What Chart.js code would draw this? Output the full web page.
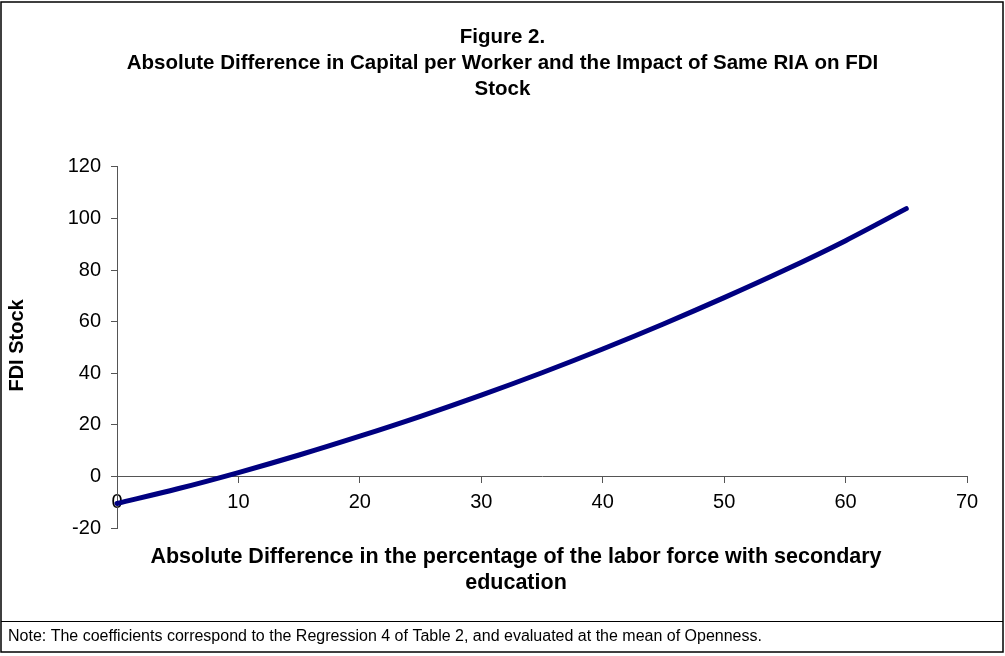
<!DOCTYPE html>
<html>
<head>
<meta charset="utf-8">
<script src="https://cdn.jsdelivr.net/npm/chart.js@4.4.1/dist/chart.umd.min.js"></script>
<style>
  html, body { margin: 0; padding: 0; background: #fff; }
  #wrap { width: 1005px; height: 656px; position: relative; }
</style>
</head>
<body>
<div id="wrap"><canvas id="c" width="1005" height="656"></canvas></div>
<script>
// ---- data ----
const xValues = [0, 5, 10, 15, 20, 25, 30, 35, 40, 45, 50, 55, 60, 65];
const fdiStock = [-10.5, -4.8, 1.5, 8.3, 15.6, 23.3, 31.5, 40.2, 49.4, 59.1, 69.3, 80.0, 91.4, 103.8];
const yTicks = [-20, 0, 20, 40, 60, 80, 100, 120];
const xTicks = [0, 10, 20, 30, 40, 50, 60, 70];

const titleLines = [
  'Figure 2.',
  'Absolute Difference in Capital per Worker and the Impact of Same RIA on FDI',
  'Stock'
];
const xTitleLines = [
  'Absolute Difference in the percentage of the labor force with secondary',
  'education'
];
const yTitle = 'FDI Stock';
const noteText = 'Note: The coefficients correspond to the Regression 4 of Table 2, and evaluated at the mean of Openness.';

const FONT = '"Liberation Sans", Arial, sans-serif';
const AXIS_COLOR = '#555555';

const points = xValues.map((x, i) => ({ x: x, y: fdiStock[i] }));

const decor = {
  id: 'decor',
  afterDraw(chart) {
    const ctx = chart.ctx;
    const area = chart.chartArea;
    ctx.save();
    // outer frame
    ctx.strokeStyle = '#000';
    ctx.lineWidth = 1.5;
    ctx.strokeRect(1, 2, 1002, 650);
    // chart frame bottom
    ctx.beginPath();
    ctx.lineWidth = 1;
    ctx.moveTo(1, 621.5);
    ctx.lineTo(1003, 621.5);
    ctx.stroke();
    ctx.fillStyle = '#000';
    // y-axis title
    ctx.save();
    ctx.translate(17, (area.top + area.bottom) / 2 - 2);
    ctx.rotate(-Math.PI / 2);
    ctx.font = 'bold 20px ' + FONT;
    ctx.textAlign = 'center';
    ctx.textBaseline = 'middle';
    ctx.fillText(yTitle, 0, 0);
    ctx.restore();
    // x-axis title
    ctx.font = 'bold 21.5px ' + FONT;
    ctx.textAlign = 'center';
    ctx.textBaseline = 'middle';
    const cx = 516;
    ctx.fillText(xTitleLines[0], cx, 557);
    ctx.fillText(xTitleLines[1], cx, 583);
    // note
    ctx.font = '16px ' + FONT;
    ctx.textAlign = 'left';
    ctx.fillText(noteText, 8, 637);
    ctx.restore();
  }
};

new Chart(document.getElementById('c'), {
  type: 'line',
  data: {
    datasets: [{
      data: points,
      borderColor: '#000080',
      borderWidth: 5,
      pointRadius: 0,
      pointHoverRadius: 0,
      cubicInterpolationMode: 'monotone',
      borderCapStyle: 'round',
      fill: false,
      clip: false
    }]
  },
  options: {
    responsive: false,
    animation: false,
    devicePixelRatio: 1,
    layout: { padding: { left: 38, right: 38, top: 0, bottom: 128 } },
    plugins: {
      legend: { display: false },
      tooltip: { enabled: false },
      title: {
        display: true,
        text: titleLines,
        color: '#000',
        font: { family: FONT, size: 20.5, weight: 'bold', lineHeight: 1.25 },
        padding: { top: 25, bottom: 65 }
      }
    },
    scales: {
      x: {
        type: 'linear',
        position: { y: 0 },
        min: 0,
        max: 70,
        afterBuildTicks(scale) { scale.ticks = xTicks.map(v => ({ value: v })); },
        ticks: {
          color: '#000',
          font: { family: FONT, size: 20 },
          padding: 8,
          maxRotation: 0
        },
        grid: { drawOnChartArea: false, drawTicks: true, tickLength: 6, color: AXIS_COLOR },
        border: { color: AXIS_COLOR, width: 1 }
      },
      y: {
        type: 'linear',
        position: 'left',
        min: -20,
        max: 120,
        afterBuildTicks(scale) { scale.ticks = yTicks.map(v => ({ value: v })); },
        afterFit(scale) { scale.width = 79; },
        ticks: {
          color: '#000',
          font: { family: FONT, size: 20 },
          padding: 10
        },
        grid: { drawOnChartArea: false, drawTicks: true, tickLength: 6, color: AXIS_COLOR },
        border: { color: AXIS_COLOR, width: 1 }
      }
    }
  },
  plugins: [decor]
});
</script>
</body>
</html>
